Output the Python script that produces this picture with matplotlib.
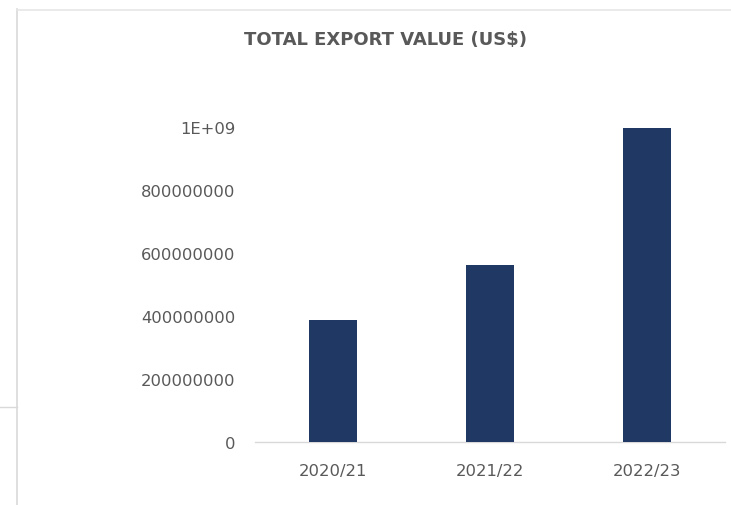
import numpy as np
import matplotlib.pyplot as plt
from matplotlib.lines import Line2D

# export values per season
seasons = ['2020/21', '2021/22', '2022/23']
export_value = [387000000, 562000000, 997000000]

y_ticks = [0, 200000000, 400000000, 600000000, 800000000, 1000000000]
y_labels = ['0', '200000000', '400000000', '600000000', '800000000', '1E+09']

bar_color = '#1F3864'
text_grey = '#595959'
line_grey = '#D9D9D9'

fig = plt.figure(figsize=(7.31, 5.06), dpi=100)
fig.patch.set_facecolor('white')

W, H = 731, 506
ax = fig.add_axes([255 / W, (H - 443) / H, (725 - 255) / W, (443 - 128) / H])

x = np.arange(len(seasons))
ax.bar(x, export_value, width=0.306, color=bar_color, zorder=3)

ax.set_xlim(-0.5, len(seasons) - 0.5)
ax.set_ylim(0, 1000000000)
ax.set_yticks(y_ticks)
ax.set_yticklabels(y_labels)
ax.set_xticks(x)
ax.set_xticklabels(seasons)

for side in ['top', 'right', 'left']:
    ax.spines[side].set_visible(False)
ax.spines['bottom'].set_color(line_grey)
ax.spines['bottom'].set_linewidth(1.0)

ax.tick_params(axis='both', length=0, colors=text_grey, labelsize=11.8)
ax.tick_params(axis='y', pad=14)
ax.tick_params(axis='x', pad=15)
for lab in ax.get_xticklabels() + ax.get_yticklabels():
    lab.set_fontfamily('DejaVu Sans')

fig.text(385 / W, 1 - 40 / H, 'TOTAL EXPORT VALUE (US$)', ha='center', va='center',
         fontsize=13, fontweight='bold', color=text_grey, family='DejaVu Sans')

# chart frame edges
fig.add_artist(Line2D([17 / W, 17 / W], [0, 1 - 10 / H], color=line_grey, lw=1.2))
fig.add_artist(Line2D([17 / W, 1], [1 - 11 / H, 1 - 11 / H], color='#E6E6E6', lw=1.2))
fig.add_artist(Line2D([0, 17 / W], [1 - 408 / H, 1 - 408 / H], color=line_grey, lw=1.0))

fig.savefig('out.png', dpi=100, facecolor='white')
